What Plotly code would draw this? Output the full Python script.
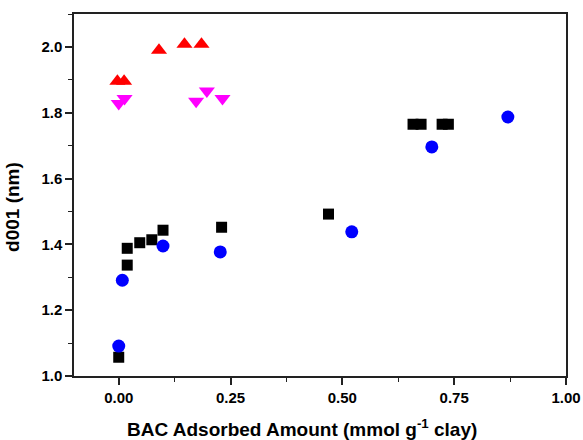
import plotly.graph_objects as go

# Series data
sq_x = [0.000, 0.019, 0.019, 0.047, 0.074, 0.099, 0.230, 0.469, 0.658, 0.676, 0.723, 0.737]
sq_y = [1.057, 1.337, 1.388, 1.405, 1.414, 1.443, 1.452, 1.492, 1.765, 1.765, 1.765, 1.765]

ci_x = [0.000, 0.008, 0.099, 0.227, 0.521, 0.700, 0.870]
ci_y = [1.091, 1.291, 1.395, 1.377, 1.438, 1.696, 1.787]

up_x = [-0.003, 0.012, 0.090, 0.147, 0.185]
up_y = [1.896, 1.896, 1.990, 2.008, 2.008]

dn_x = [0.000, 0.013, 0.173, 0.197, 0.232]
dn_y = [1.828, 1.843, 1.835, 1.866, 1.843]

x_ticks = [0.0, 0.25, 0.5, 0.75, 1.0]
x_ticklabels = ["0.00", "0.25", "0.50", "0.75", "1.00"]
y_ticks = [1.0, 1.2, 1.4, 1.6, 1.8, 2.0]
y_ticklabels = ["1.0", "1.2", "1.4", "1.6", "1.8", "2.0"]

x_title = "<b>BAC Adsorbed Amount (mmol g<sup>-1</sup> clay)</b>"
y_title = "<b>d001 (nm)</b>"

fig = go.Figure()
fig.add_trace(go.Scatter(x=sq_x, y=sq_y, mode="markers",
                         marker=dict(symbol="square", size=11, color="black", line=dict(width=0))))
fig.add_trace(go.Scatter(x=ci_x, y=ci_y, mode="markers",
                         marker=dict(symbol="circle", size=13, color="#0000ff", line=dict(width=0))))
fig.add_trace(go.Scatter(x=up_x, y=up_y, mode="markers",
                         marker=dict(symbol="triangle-up", size=14, color="#ff0000", line=dict(width=0))))
fig.add_trace(go.Scatter(x=dn_x, y=dn_y, mode="markers",
                         marker=dict(symbol="triangle-down", size=14, color="#ff00ff", line=dict(width=0))))

font_family = "Liberation Sans, Arial, sans-serif"
fig.update_layout(
    width=583, height=440,
    margin=dict(l=74, r=17, t=14, b=64, autoexpand=False),
    paper_bgcolor="white", plot_bgcolor="white",
    showlegend=False,
    font=dict(family=font_family, color="black"),
    annotations=[
        dict(text=x_title, xref="paper", yref="paper", x=0.4634, y=-0.1436,
             xanchor="center", yanchor="middle", showarrow=False,
             font=dict(size=19, family=font_family, color="black")),
        dict(text=y_title, xref="paper", yref="paper", x=-0.124, y=0.467,
             xanchor="center", yanchor="middle", showarrow=False, textangle=-90,
             font=dict(size=19, family=font_family, color="black")),
    ],
)
fig.update_xaxes(
    range=[-0.1, 1.0], automargin=False,
    tickvals=x_ticks, ticktext=x_ticklabels,
    tickfont=dict(size=15, family=font_family, weight="bold"),
    ticks="outside", ticklen=7, tickwidth=1.5, tickcolor="#222",
    minor=dict(dtick=0.125, tick0=0, ticks="outside", ticklen=4, tickwidth=1.2, tickcolor="#222"),
    showline=True, linecolor="#222", linewidth=1.5, mirror=True,
    showgrid=False, zeroline=False,
)
fig.update_yaxes(
    range=[1.0, 2.1], automargin=False,
    tickvals=y_ticks, ticktext=y_ticklabels,
    tickfont=dict(size=15, family=font_family, weight="bold"),
    ticks="outside", ticklen=7, tickwidth=1.5, tickcolor="#222",
    minor=dict(dtick=0.1, tick0=1.0, ticks="outside", ticklen=4, tickwidth=1.2, tickcolor="#222"),
    showline=True, linecolor="#222", linewidth=1.5, mirror=True,
    showgrid=False, zeroline=False,
)

fig.write_html("out.html",
               config={"displayModeBar": False},
               post_script="document.body.style.margin='0';document.body.style.overflow='hidden';")
